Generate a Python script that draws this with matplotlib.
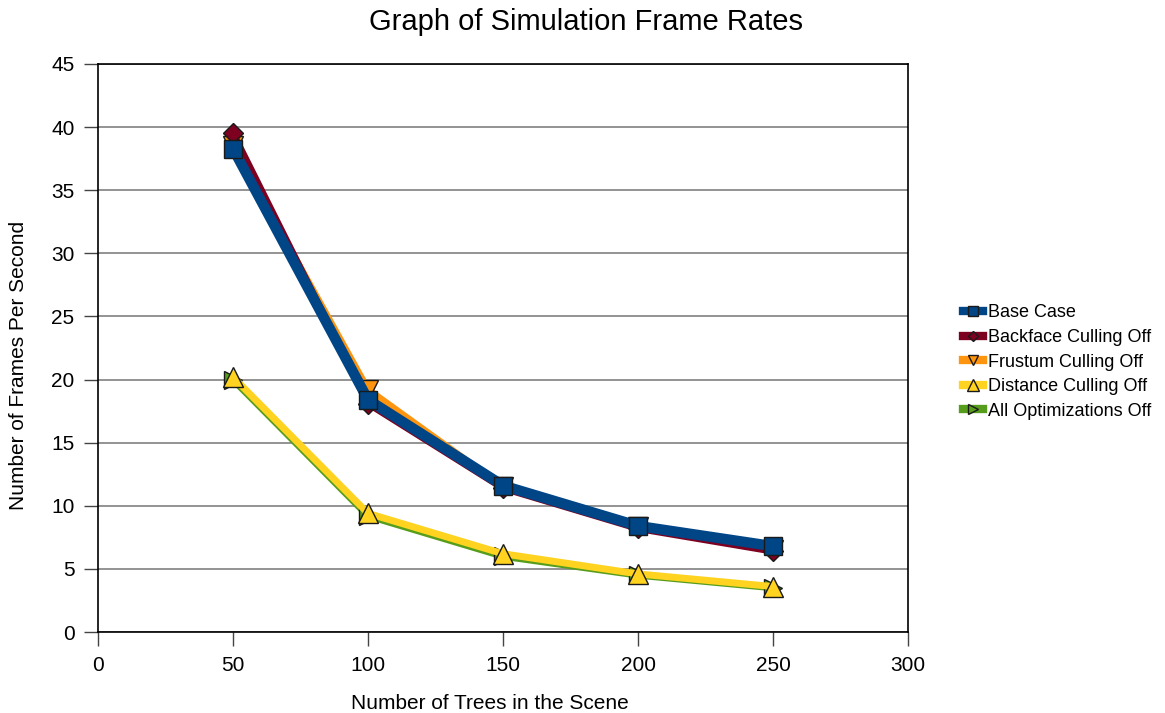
import matplotlib
matplotlib.use("Agg")
import matplotlib.pyplot as plt

plt.rcParams['font.family'] = ['Liberation Sans', 'DejaVu Sans']

trees = [50, 100, 150, 200, 250]
base_case = [38.3, 18.4, 11.6, 8.4, 6.8]
backface_off = [39.5, 18.1, 11.4, 8.2, 6.4]
frustum_off = [38.5, 19.2, 11.5, 8.3, 6.5]
distance_off = [20.2, 9.4, 6.2, 4.6, 3.6]
all_off = [20.0, 9.2, 6.0, 4.5, 3.5]

series = [
    ("Base Case", base_case, "#004586", "s", 7.5),
    ("Backface Culling Off", backface_off, "#7e0021", "D", 5),
    ("Frustum Culling Off", frustum_off, "#ff950e", "v", 5),
    ("Distance Culling Off", distance_off, "#ffd320", "^", 5),
    ("All Optimizations Off", all_off, "#579d1c", ">", 5),
]

fig = plt.figure(figsize=(11.65, 7.13), dpi=100)
ax = fig.add_axes([98 / 1165, 1 - 632 / 713, 810 / 1165, 568 / 713])

# draw back-to-front so the base case sits on top
zorders = {"Base Case": 10, "Backface Culling Off": 8, "Frustum Culling Off": 7,
           "Distance Culling Off": 6, "All Optimizations Off": 5}
marker_sizes = {"s": 13, "D": 10, "v": 14, "^": 15, ">": 13}
handles = {}
for name, vals, col, mk, lw in series:
    h, = ax.plot(trees, vals, color=col, lw=lw, marker=mk, ms=marker_sizes[mk],
                 markerfacecolor=col, markeredgecolor="#1a1a1a", markeredgewidth=1.0,
                 zorder=zorders[name], label=name, solid_joinstyle="round")
    handles[name] = h

ax.set_xlim(0, 300)
ax.set_ylim(0, 45)
ax.set_xticks(range(0, 301, 50))
ax.set_yticks(range(0, 46, 5))
ax.yaxis.grid(True, color="#808080", lw=1.2)
ax.set_axisbelow(True)
for s in ax.spines.values():
    s.set_color("black")
    s.set_linewidth(1.2)
ax.tick_params(axis="both", direction="out", length=10, width=1, color="#444444",
               labelsize=15, pad=7)

ax.set_xlabel("Number of Trees in the Scene", fontsize=15)
ax.set_ylabel("Number of Frames Per Second", fontsize=15)
ax.xaxis.set_label_coords(0.484, -0.11)
ax.yaxis.set_label_coords(-0.087, 0.47)
fig.text(586 / 1165, 1 - 22 / 713, "Graph of Simulation Frame Rates",
         ha="center", va="center", fontsize=21)

leg = fig.legend([handles[n] for n, *_ in series], [n for n, *_ in series],
                 loc="center left", bbox_to_anchor=(956 / 1165, 1 - 362 / 713),
                 frameon=False, fontsize=13, handlelength=1.1, handletextpad=0.25,
                 labelspacing=0.42, markerscale=0.55, borderaxespad=0)
for line in leg.get_lines():
    line.set_linewidth(6)

fig.savefig("out.png", dpi=100)
